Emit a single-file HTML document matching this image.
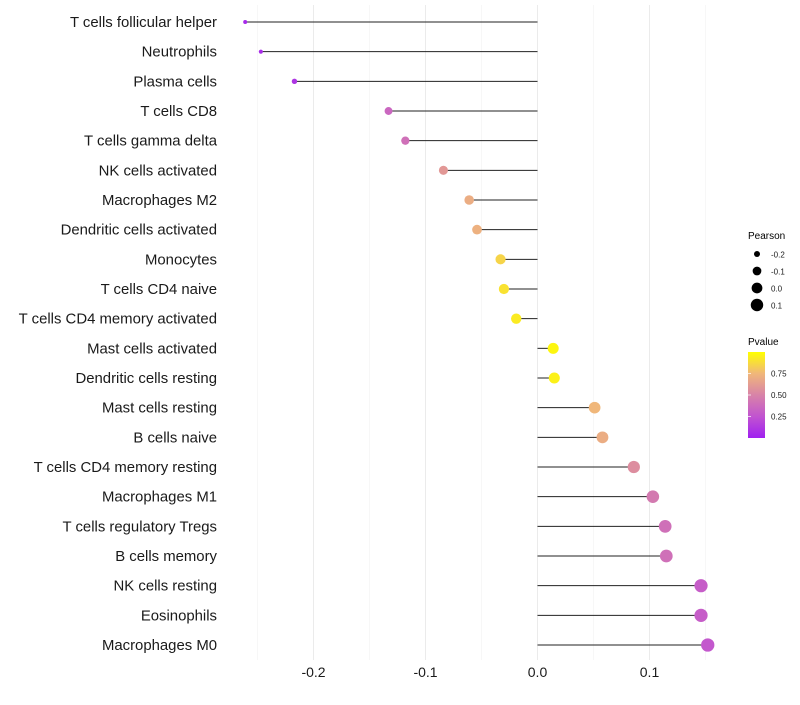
<!DOCTYPE html>
<html><head><meta charset="utf-8"><style>
body{margin:0;background:#fff}
svg text{font-family:"Liberation Sans",sans-serif}
</style></head><body>
<svg id="c" width="800" height="700" xmlns="http://www.w3.org/2000/svg">
<defs><linearGradient id="pg" x1="0" y1="1" x2="0" y2="0">
<stop offset="0" stop-color="#a020f0"/><stop offset="0.25" stop-color="#c154d0"/><stop offset="0.5" stop-color="#d883a8"/><stop offset="0.75" stop-color="#f0b77a"/><stop offset="1" stop-color="#ffff00"/>
</linearGradient></defs>
<g id="grid"></g><g id="marks"></g><g id="labels"></g><g id="xticks"></g>
<g>
<text x="748" y="239" font-size="10" fill="#000">Pearson</text>
<g id="sizeleg"></g>
<text x="748" y="345" font-size="10" fill="#000">Pvalue</text>
<rect x="748" y="352" width="17" height="86" fill="url(#pg)"/>
<g id="colleg"></g>
</g>
</svg>
<script>
const categories=["T cells follicular helper","Neutrophils","Plasma cells","T cells CD8","T cells gamma delta","NK cells activated","Macrophages M2","Dendritic cells activated","Monocytes","T cells CD4 naive","T cells CD4 memory activated","Mast cells activated","Dendritic cells resting","Mast cells resting","B cells naive","T cells CD4 memory resting","Macrophages M1","T cells regulatory  Tregs ","B cells memory","NK cells resting","Eosinophils","Macrophages M0"];
const pearson=[-0.261,-0.247,-0.217,-0.133,-0.118,-0.084,-0.061,-0.054,-0.033,-0.030,-0.019,0.014,0.015,0.051,0.058,0.086,0.103,0.114,0.115,0.146,0.146,0.152];
const pvalue=[0.05,0.06,0.1,0.35,0.4,0.6,0.7,0.72,0.85,0.9,0.93,0.97,0.95,0.75,0.7,0.55,0.45,0.4,0.4,0.3,0.3,0.27];
const xTicks=[-0.2,-0.1,0.0,0.1];
const xTickLabels=["-0.2","-0.1","0.0","0.1"];
const sizeLegend=[-0.2,-0.1,0.0,0.1];
const colorTicks=[0.25,0.5,0.75];
const NS="http://www.w3.org/2000/svg";
const x=v=>537.5+v*1120;
const y=i=>22+i*29.667;
const r=v=>Math.sqrt(Math.max(4,29+100*v));
const stops=[[0,[160,32,240]],[0.25,[193,84,208]],[0.5,[216,131,168]],[0.75,[240,183,122]],[1,[255,255,0]]];
function col(p){for(let k=1;k<stops.length;k++){if(p<=stops[k][0]){const [a,ca]=stops[k-1],[b,cb]=stops[k];const t=(p-a)/(b-a);return `rgb(${ca.map((c,j)=>Math.round(c+(cb[j]-c)*t)).join(',')})`;}}return 'rgb(255,255,0)';}
function el(tag,attrs,parent,txt){const e=document.createElementNS(NS,tag);for(const k in attrs)e.setAttribute(k,attrs[k]);if(txt!=null)e.textContent=txt;document.getElementById(parent).appendChild(e);return e;}
for(let v=-0.25;v<=0.151;v+=0.05){const major=Math.abs(Math.round(v*100)%10)===0;
const g=el('line',{x1:x(v),x2:x(v),y1:5,y2:660,stroke:major?'#ebebeb':'#f5f5f5','stroke-width':major?1:0.8},'grid');

}
categories.forEach((c,i)=>{
const l=el('line',{x1:x(0),x2:x(pearson[i]),y1:y(i),y2:y(i),stroke:'#222','stroke-width':1},'marks');


const p=el('circle',{cx:x(pearson[i]),cy:y(i),r:r(pearson[i]),fill:col(pvalue[i])},'marks');


const t=el('text',{x:217,y:y(i)+5,'text-anchor':'end','font-size':14.9,fill:'#1a1a1a'},'labels',c);


});
xTicks.forEach((v,i)=>{
const t=el('text',{x:x(v),y:677,'text-anchor':'middle','font-size':14,fill:'#1a1a1a'},'xticks',xTickLabels[i]);

});
sizeLegend.forEach((v,i)=>{
const c=el('circle',{cx:757,cy:254+i*17,r:r(v),fill:'#000'},'sizeleg');


const t=el('text',{x:771,y:257.5+i*17,'font-size':8,fill:'#1a1a1a'},'sizeleg',sizeLegend[i].toFixed(1));

});
colorTicks.forEach(v=>{const yy=438-v*86;
const tk=el('line',{x1:748,x2:751,y1:yy,y2:yy,stroke:'#fff','stroke-width':0.7},'colleg');


const t=el('text',{x:771,y:yy+3,'font-size':8,fill:'#1a1a1a'},'colleg',v.toFixed(2));

});
</script>
</body></html>
